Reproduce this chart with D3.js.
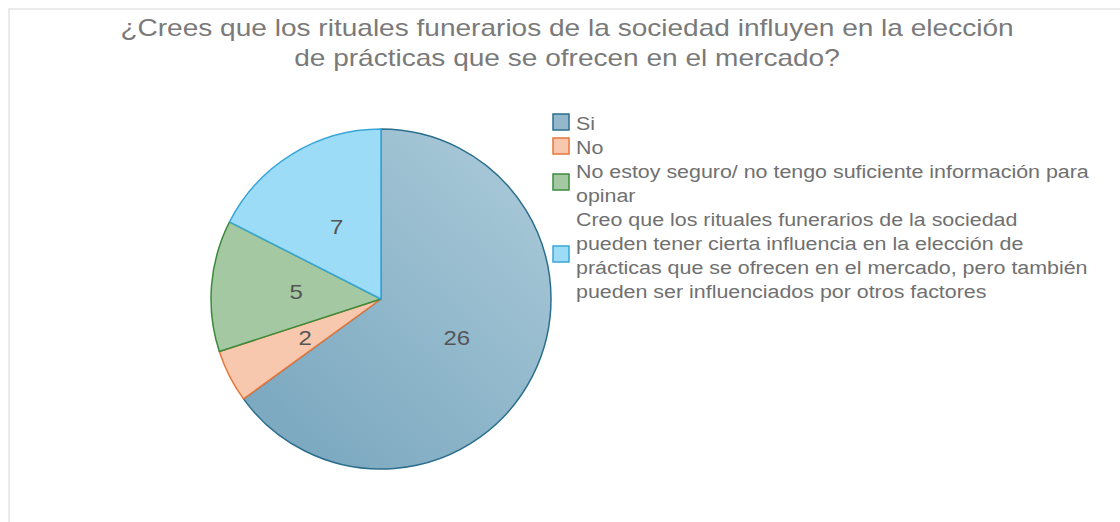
<!DOCTYPE html>
<html>
<head>
<meta charset="utf-8">
<script src="https://cdn.jsdelivr.net/npm/d3@7"></script>
<style>
  body { margin: 0; background: #fff; }
  svg { display: block; font-family: "Liberation Sans", Arial, sans-serif; }
</style>
</head>
<body>
<div id="chart"></div>
<script>
const titleLines = ['¿Crees que los rituales funerarios de la sociedad influyen en la elección',
  'de prácticas que se ofrecen en el mercado?'];
// legend labels, line breaks as in the chart
const categories = ['Si', 'No',
  'No estoy seguro/ no tengo suficiente información para\nopinar',
  'Creo que los rituales funerarios de la sociedad\npueden tener cierta influencia en la elección de\nprácticas que se ofrecen en el mercado, pero también\npueden ser influenciados por otros factores'];
const values = [26, 2, 5, 7];
const fills = ['url(#grad-si)', '#f8c8ae', '#a4c9a2', '#9ddcf6'];
const swatchFills = ['#93b8cb', '#f8c8ae', '#a4c9a2', '#9ddcf6'];
const strokes = ['#2c6e8e', '#e8773a', '#3c8a3c', '#3aa6d8'];

const width = 1120, height = 522;
const cx = 381, cy = 299, r = 170;
const sx = 1.19; // text in the source is drawn a bit wide

const svg = d3.select('#chart').append('svg')
  .attr('width', width)
  .attr('height', height);

//frame
svg.append('path')
  .attr('d', `M9,${height} V9 H${width}`)
  .attr('fill', 'none')
  .attr('stroke', '#ebebeb')
  .attr('stroke-width', 2);

const defs = svg.append('defs');
const g1 = defs.append('linearGradient')
  .attr('id', 'grad-si')
  .attr('gradientUnits', 'userSpaceOnUse')
  .attr('x1', cx + 120).attr('y1', cy - 60)
  .attr('x2', cx - 90).attr('y2', cy + 170);
g1.append('stop').attr('offset', 0).attr('stop-color', '#a3c5d5');
g1.append('stop').attr('offset', 1).attr('stop-color', '#7eaac1');

// title
svg.append('g')
  .selectAll('text')
  .data(titleLines)
  .join('text')
  .attr('transform', (d, i) => `translate(567,${36 + i * 30}) scale(1.22,1)`)
  .attr('text-anchor', 'middle')
  .attr('fill', '#7a7a7a')
  .attr('font-size', 23)
  .text(d => d);

// pie
const pie = d3.pie().sort(null).value(d => d)(values);
const arc = d3.arc().innerRadius(0).outerRadius(r);
const labelArc = d3.arc().innerRadius(r * 0.5).outerRadius(r * 0.5);

const g = svg.append('g').attr('transform', `translate(${cx},${cy})`);

g.selectAll('path.slice')
  .data(pie)
  .join('path')
  .attr('class', 'slice')
  .attr('d', arc)
  .attr('fill', (d, i) => fills[i])
  .attr('stroke', (d, i) => strokes[i])
  .attr('stroke-width', 1.5)
  .attr('stroke-linejoin', 'round');

g.selectAll('text.val')
  .data(pie)
  .join('text')
  .attr('class', 'val')
  .attr('transform', d => `translate(${labelArc.centroid(d)}) scale(1.2,1)`)
  .attr('text-anchor', 'middle')
  .attr('dy', '0.35em')
  .attr('font-size', 20)
  .attr('fill', '#555')
  .text(d => d.data);

// legend
const legX = 553, lineH = 24;
const leg = svg.append('g').attr('font-size', 18).attr('fill', '#707070');
let y = 130;

categories.forEach((c, i) => {
  const lines = c.split('\n');
  const mid = y - 8 + (lines.length - 1) * lineH / 2;
  leg.append('rect')
    .attr('x', legX).attr('y', mid - 8)
    .attr('width', 16).attr('height', 16)
    .attr('fill', swatchFills[i])
    .attr('stroke', strokes[i])
    .attr('stroke-width', 1.5);
  lines.forEach((l, j) => {
    leg.append('text')
      .attr('transform', `translate(${legX + 23},${y + j * lineH}) scale(${sx},1)`)
      .text(l);
  });
  y += lines.length * lineH;
});
</script>
</body>
</html>
